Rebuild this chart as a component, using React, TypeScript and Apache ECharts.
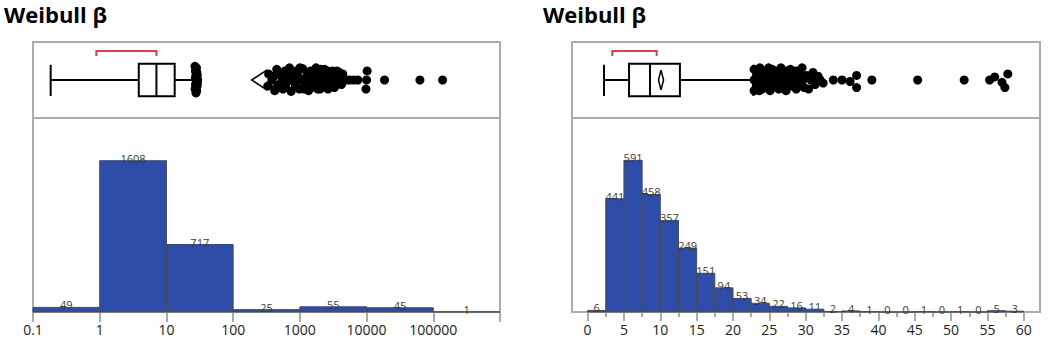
import React, { useEffect, useRef } from 'react';
import * as echarts from 'echarts';

// ---------- data ----------
const titleText = 'Weibull β';

// Left: log-scale histogram
const leftBinEdges = [0.1, 1, 10, 100, 1000, 10000, 100000, 1000000];
const leftCounts = [49, 1608, 717, 25, 55, 45, 1];
const leftBox = [0.184, 3.85, 7.08, 13.3, 26.3]; // whisker low, Q1, median, Q3, whisker high
const leftMean = [190, 319, 537]; // lower CI, mean, upper CI
const leftShortestHalf = [0.89, 7.08];
const leftOutliers = [
  [26.8, 0.68], [27.2, 0.62], [27.6, 0.56], [28.0, 0.5], [27.3, 0.44], [26.9, 0.38], [27.7, 0.33], [28.6, 0.6], [28.8, 0.42], [29.4, 0.5],
  [28.2, 0.66], [28.4, 0.36], [27.0, 0.52], [29.0, 0.56], [29.1, 0.45],
  [330, 0.42], [340, 0.58], [380, 0.5], [420, 0.36], [450, 0.64], [480, 0.44], [520, 0.56], [560, 0.38], [600, 0.62], [650, 0.48],
  [700, 0.66], [740, 0.35], [800, 0.54], [860, 0.42], [900, 0.62], [980, 0.38], [1050, 0.5], [1100, 0.65], [1200, 0.44], [1280, 0.58],
  [1350, 0.36], [1450, 0.62], [1550, 0.46], [1650, 0.54], [1750, 0.66], [1850, 0.38], [1950, 0.5], [2100, 0.6], [2200, 0.42], [2350, 0.64],
  [2500, 0.52], [2650, 0.38], [2800, 0.58], [2950, 0.46], [3100, 0.62], [3300, 0.4], [3500, 0.55], [3700, 0.48], [3900, 0.6], [4200, 0.44],
  [410, 0.55], [470, 0.4], [540, 0.48], [620, 0.4], [690, 0.56], [760, 0.6], [830, 0.47], [940, 0.55], [1000, 0.66], [1150, 0.38],
  [1230, 0.52], [1400, 0.48], [1500, 0.4], [1600, 0.6], [1700, 0.45], [1800, 0.56], [2000, 0.38], [2050, 0.64], [2300, 0.5], [2450, 0.4],
  [2600, 0.62], [2750, 0.46], [3000, 0.54], [3200, 0.6], [3400, 0.46], [3600, 0.62], [4000, 0.52], [4400, 0.58],
  [4500, 0.52], [5000, 0.5], [5600, 0.5], [6400, 0.5], [7400, 0.5], [9800, 0.38], [10000, 0.5], [10200, 0.62], [18600, 0.5], [63000, 0.5],
  [138000, 0.5],
];
const leftTickLabels = ['0.1', '1', '10', '100', '1000', '10000', '100000'];

// Right: linear histogram
const rightBinEdges = [0, 2.5, 5, 7.5, 10, 12.5, 15, 17.5, 20, 22.5, 25, 27.5, 30, 32.5, 35, 37.5, 40, 42.5, 45, 47.5, 50, 52.5, 55, 57.5, 60];
const rightCounts = [6, 441, 591, 458, 357, 249, 151, 94, 53, 34, 22, 16, 11, 2, 4, 1, 0, 0, 1, 0, 1, 0, 5, 3];
const rightBox = [2.26, 5.7, 8.58, 12.7, 22.8];
const rightMean = [9.75, 10.1, 10.45];
const rightShortestHalf = [3.4, 9.5];
const rightOutliers = [
  [22.9, 0.36], [22.9, 0.5], [22.9, 0.64], [23.2, 0.42], [23.3, 0.58], [23.6, 0.36], [23.7, 0.66], [23.9, 0.5], [24.2, 0.4], [24.4, 0.6],
  [24.6, 0.46], [24.9, 0.66], [25.1, 0.36], [25.3, 0.54], [25.6, 0.42], [25.8, 0.62], [26.1, 0.5], [26.3, 0.38], [26.6, 0.66], [26.8, 0.46],
  [27.1, 0.58], [27.3, 0.36], [27.6, 0.52], [27.9, 0.64], [28.1, 0.42], [28.4, 0.56], [28.7, 0.38], [29.0, 0.62], [29.2, 0.48], [29.5, 0.66],
  [23.1, 0.52], [23.4, 0.46], [23.8, 0.58], [24.0, 0.38], [24.3, 0.52], [24.7, 0.58], [25.0, 0.44], [25.4, 0.64], [25.7, 0.5], [26.0, 0.4],
  [26.4, 0.58], [26.7, 0.52], [27.0, 0.42], [27.4, 0.62], [27.8, 0.46], [28.2, 0.52], [28.6, 0.62], [28.9, 0.44], [29.3, 0.56], [29.6, 0.5],
  [29.8, 0.4], [30.1, 0.56], [30.4, 0.38], [30.7, 0.5], [31.0, 0.6], [31.3, 0.44], [31.7, 0.55], [32.0, 0.5], [32.4, 0.46], [33.8, 0.5],
  [35.0, 0.5], [36.1, 0.48], [37.0, 0.56], [37.0, 0.4], [39.1, 0.5], [45.4, 0.5], [51.8, 0.5], [55.3, 0.5], [56.0, 0.54], [57.0, 0.47],
  [57.4, 0.4], [57.8, 0.58],
];

// ---------- styles ----------
const FONT = '"Open Sans", "Noto Sans", sans-serif';
const BAR_FILL = '#2e4da8';
const BAR_STROKE = '#4a4a4a';
const FRAME = '#ababab';
const RED = '#d4404f';

const binsOf = (edges: number[], counts: number[]) => counts.map((c, i) => [edges[i], edges[i + 1], c]);

const histRender = (params: any, api: any) => {
  const x0 = api.value(0);
  const x1 = api.value(1);
  const c = api.value(2);
  const p0 = api.coord([x0, c]);
  const p1 = api.coord([x1, 0]);
  return {
    type: 'group',
    children: [
      {
        type: 'rect',
        shape: { x: p0[0], y: p0[1], width: p1[0] - p0[0], height: p1[1] - p0[1] },
        style: { fill: BAR_FILL, stroke: BAR_STROKE, lineWidth: 1 },
      },
      {
        type: 'text',
        x: (p0[0] + p1[0]) / 2,
        y: p0[1] + 3,
        style: { text: String(c), fill: '#3a3a3a', font: `11px ${FONT}`, align: 'center', verticalAlign: 'bottom' },
        z2: 10,
      },
    ],
  };
};

const boxRender = (params: any, api: any) => {
  const wl = api.coord([api.value(0), 0.5]);
  const q1 = api.coord([api.value(1), 0.5]);
  const md = api.coord([api.value(2), 0.5]);
  const q3 = api.coord([api.value(3), 0.5]);
  const wh = api.coord([api.value(4), 0.5]);
  const top = api.coord([api.value(1), 0.715])[1];
  const bot = api.coord([api.value(1), 0.285])[1];
  const capT = api.coord([api.value(1), 0.7])[1];
  const capB = api.coord([api.value(1), 0.29])[1];
  const st = { stroke: '#000', lineWidth: 2 };
  return {
    type: 'group',
    children: [
      { type: 'line', shape: { x1: wl[0], y1: wl[1], x2: q1[0], y2: q1[1] }, style: st },
      { type: 'line', shape: { x1: q3[0], y1: q3[1], x2: wh[0], y2: wh[1] }, style: st },
      { type: 'line', shape: { x1: wl[0], y1: capT, x2: wl[0], y2: capB }, style: st },
      { type: 'line', shape: { x1: wh[0], y1: capT, x2: wh[0], y2: capB }, style: st },
      { type: 'rect', shape: { x: q1[0], y: top, width: q3[0] - q1[0], height: bot - top }, style: { fill: '#fff', stroke: '#000', lineWidth: 2 } },
      { type: 'line', shape: { x1: md[0], y1: top, x2: md[0], y2: bot }, style: st },
    ],
  };
};

const meanRender = (params: any, api: any) => {
  const lo = api.coord([api.value(0), 0.5]);
  const mt = api.coord([api.value(1), 0.63]);
  const hi = api.coord([api.value(2), 0.5]);
  const mb = api.coord([api.value(1), 0.37]);
  return {
    type: 'polygon',
    shape: { points: [lo, mt, hi, mb] },
    style: { fill: '#fff', stroke: '#000', lineWidth: 1.5 },
  };
};

const halfRender = (params: any, api: any) => {
  const a = api.coord([api.value(0), 0.88]);
  const b = api.coord([api.value(1), 0.88]);
  const d = api.coord([api.value(0), 0.815])[1];
  return {
    type: 'polyline',
    shape: { points: [[a[0], d], a, b, [b[0], d]] },
    style: { stroke: RED, lineWidth: 2, fill: 'none' },
  };
};

const tickLabelStyle = { fontSize: 14, color: '#222', fontFamily: FONT, margin: 10 };

export default function App() {
  const ref = useRef<HTMLDivElement>(null);
  useEffect(() => {
    document.body.style.margin = '0';
    if (!ref.current) return;
    const chart = echarts.init(ref.current, undefined, { renderer: 'svg' });
    const leftMax = 2062;
    const rightMax = 756;
    const dotStyle = { color: '#000', opacity: 1 };
    chart.setOption({
      animation: false,
      backgroundColor: '#fff',
      grid: [
        { left: 33, top: 42, width: 467, height: 76 },
        { left: 33, top: 118, width: 467, height: 194 },
        { left: 587.6, top: 42, width: 436.2, height: 76 },
        { left: 587.6, top: 118, width: 436.2, height: 194 },
      ],
      xAxis: [
        { gridIndex: 0, type: 'log', logBase: 10, min: 0.1, max: 1000000, show: false },
        {
          gridIndex: 1, type: 'log', logBase: 10, min: 0.1, max: 1000000,
          axisLine: { show: false },
          axisTick: { show: true, length: 10, lineStyle: { color: FRAME, width: 2 } },
          axisLabel: {
            ...tickLabelStyle,
            interval: 0,
            showMinLabel: true,
            showMaxLabel: true,
            formatter: (v: number) => {
              const i = Math.round(Math.log10(v)) + 1;
              return leftTickLabels[i] ?? '';
            },
          },
          splitLine: { show: false },
        },
        { gridIndex: 2, type: 'value', min: 0, max: 60, show: false },
        {
          gridIndex: 3, type: 'value', min: 0, max: 60, interval: 5,
          axisLine: { show: false },
          axisTick: { show: true, length: 9, lineStyle: { color: FRAME, width: 2 } },
          minorTick: { show: true, splitNumber: 2, length: 5, lineStyle: { color: FRAME, width: 2 } },
          axisLabel: { ...tickLabelStyle, interval: 0 },
          splitLine: { show: false },
        },
      ],
      yAxis: [
        { gridIndex: 0, type: 'value', min: 0, max: 1, show: false },
        { gridIndex: 1, type: 'value', min: 0, max: leftMax, show: false },
        { gridIndex: 2, type: 'value', min: 0, max: 1, show: false },
        { gridIndex: 3, type: 'value', min: 0, max: rightMax, show: false },
      ],
      graphic: [
        { type: 'text', left: 4, top: 3, style: { text: titleText, font: `bold 22px ${FONT}`, fill: '#000' } },
        { type: 'text', left: 543, top: 3, style: { text: titleText, font: `bold 22px ${FONT}`, fill: '#000' } },
        { type: 'rect', z: 0, shape: { x: 33, y: 42, width: 467, height: 270 }, style: { fill: 'none', stroke: FRAME, lineWidth: 2 } },
        { type: 'line', z: 0, shape: { x1: 33, y1: 118, x2: 500, y2: 118 }, style: { stroke: FRAME, lineWidth: 2 } },
        { type: 'rect', z: 0, shape: { x: 572, y: 42, width: 468, height: 270 }, style: { fill: 'none', stroke: FRAME, lineWidth: 2 } },
        { type: 'line', z: 0, shape: { x1: 572, y1: 118, x2: 1040, y2: 118 }, style: { stroke: FRAME, lineWidth: 2 } },
      ],
      series: [
        { type: 'custom', xAxisIndex: 1, yAxisIndex: 1, renderItem: histRender, data: binsOf(leftBinEdges, leftCounts), encode: { x: [0, 1], y: 2 }, z: 3 },
        { type: 'custom', xAxisIndex: 3, yAxisIndex: 3, renderItem: histRender, data: binsOf(rightBinEdges, rightCounts), encode: { x: [0, 1], y: 2 }, z: 3 },
        { type: 'custom', xAxisIndex: 0, yAxisIndex: 0, renderItem: boxRender, data: [leftBox], encode: { x: [0, 1, 2, 3, 4] }, z: 3 },
        { type: 'custom', xAxisIndex: 2, yAxisIndex: 2, renderItem: boxRender, data: [rightBox], encode: { x: [0, 1, 2, 3, 4] }, z: 3 },
        { type: 'custom', xAxisIndex: 0, yAxisIndex: 0, renderItem: meanRender, data: [leftMean], encode: { x: [0, 1, 2] }, z: 4 },
        { type: 'custom', xAxisIndex: 2, yAxisIndex: 2, renderItem: meanRender, data: [rightMean], encode: { x: [0, 1, 2] }, z: 4 },
        { type: 'custom', xAxisIndex: 0, yAxisIndex: 0, renderItem: halfRender, data: [leftShortestHalf], encode: { x: [0, 1] }, z: 4 },
        { type: 'custom', xAxisIndex: 2, yAxisIndex: 2, renderItem: halfRender, data: [rightShortestHalf], encode: { x: [0, 1] }, z: 4 },
        { type: 'scatter', xAxisIndex: 0, yAxisIndex: 0, data: leftOutliers, symbolSize: 9, itemStyle: dotStyle, z: 5 },
        { type: 'scatter', xAxisIndex: 2, yAxisIndex: 2, data: rightOutliers, symbolSize: 9, itemStyle: dotStyle, z: 5 },
      ],
    });
    return () => chart.dispose();
  }, []);
  return <div ref={ref} style={{ width: 1053, height: 351 }} />;
}
